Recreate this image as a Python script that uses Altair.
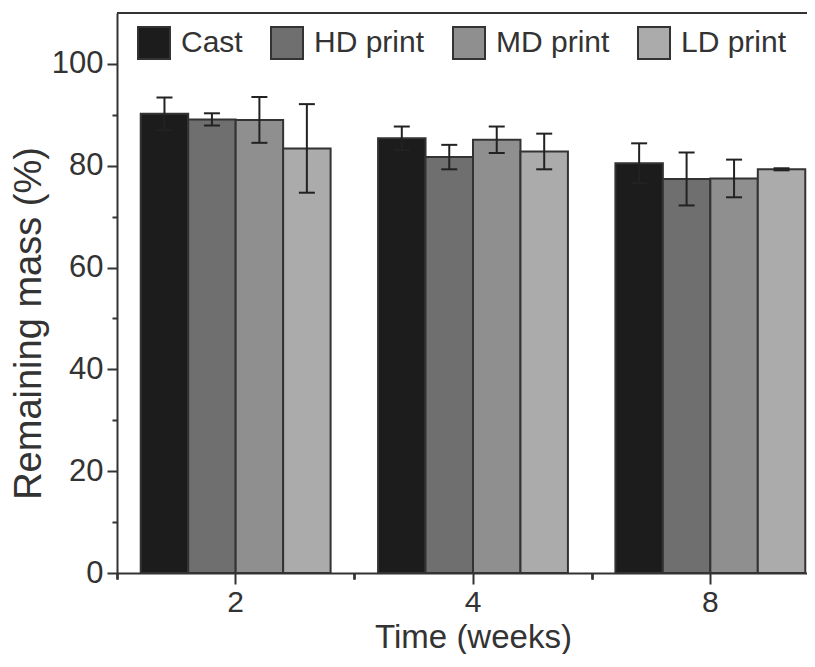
import altair as alt
import pandas as pd

# ---- data ----
times = ["2", "4", "8"]
groups = ["Cast", "HD print", "MD print", "LD print"]
cast_mean = [90.2, 85.4, 80.5]
hd_mean = [89.1, 81.7, 77.4]
md_mean = [89.0, 85.1, 77.5]
ld_mean = [83.4, 82.8, 79.3]
cast_err = [3.2, 2.3, 3.9]
hd_err = [1.2, 2.4, 5.2]
md_err = [4.5, 2.6, 3.7]
ld_err = [8.7, 3.5, 0.2]
colors = ["#1c1c1c", "#6f6f6f", "#8f8f8f", "#ababab"]
y_ticks = [0, 10, 20, 30, 40, 50, 60, 70, 80, 90, 100]
y_max = [110]

rows = []
for g, means, errs in zip(groups, [cast_mean, hd_mean, md_mean, ld_mean],
                          [cast_err, hd_err, md_err, ld_err]):
    for t, m, e in zip(times, means, errs):
        rows.append({"time": t, "group": g, "mean": m, "err": e})
df = pd.DataFrame(rows)

FONT = "Liberation Sans"
INK = "#333333"

x_scale = alt.Scale(domain=times, paddingInner=0, paddingOuter=0)
xo_scale = alt.Scale(domain=groups, paddingInner=0, paddingOuter=0.5)
y_scale = alt.Scale(domain=[0, y_max[0]], nice=False)

main_x_axis = alt.Axis(title="Time (weeks)", labelAngle=0, labelFontSize=30,
                       titleFontSize=33, labelFont=FONT, titleFont=FONT,
                       labelColor=INK, titleColor=INK, titleFontWeight="normal",
                       tickSize=11, tickWidth=2, tickColor=INK,
                       domainColor=INK, domainWidth=2, labelPadding=3,
                       titleY=74, titleBaseline="alphabetic", grid=False)
minor_x_axis = alt.Axis(title=None, orient="bottom", labels=False, domain=False,
                        tickBand="extent", tickSize=6, tickWidth=2, tickColor=INK,
                        grid=False)
y_axis = alt.Axis(title="Remaining mass (%)", values=y_ticks,
                  labelExpr="datum.value % 20 == 0 ? datum.label : ''",
                  tickSize={"condition": {"test": "datum.value % 20 == 0", "value": 10}, "value": 5},
                  tickWidth=2, tickColor=INK, domainColor=INK, domainWidth=2,
                  labelFontSize=31, titleFontSize=38, labelFont=FONT, titleFont=FONT,
                  labelColor=INK, titleColor=INK, titleFontWeight="normal",
                  labelPadding=4, titlePadding=3, titleY=310, grid=False)

base = alt.Chart(df)

bars = base.mark_bar(stroke=INK, strokeWidth=2).encode(
    x=alt.X("time:N", sort=times, scale=x_scale, axis=main_x_axis),
    xOffset=alt.XOffset("group:N", sort=groups, scale=xo_scale),
    y=alt.Y("mean:Q", scale=y_scale, axis=y_axis),
    fill=alt.Fill("group:N", sort=groups, scale=alt.Scale(domain=groups, range=colors),
                  legend=alt.Legend(title=None, orient="none", legendX=20, legendY=13,
                                    direction="horizontal", columns=4,
                                    symbolType="square", symbolSize=1024,
                                    symbolStrokeColor=INK, symbolStrokeWidth=2,
                                    symbolOpacity=1, labelFontSize=30, labelFont=FONT,
                                    labelColor=INK, labelOffset=10, columnPadding=24)),
)

err = base.transform_calculate(lo="datum.mean - datum.err", hi="datum.mean + datum.err")

rules = err.mark_rule(color="#222222", strokeWidth=2).encode(
    x=alt.X("time:N", sort=times, scale=x_scale, axis=minor_x_axis),
    xOffset=alt.XOffset("group:N", sort=groups, scale=xo_scale),
    y=alt.Y("lo:Q", scale=y_scale, axis=y_axis),
    y2="hi:Q",
)
caps_hi = err.mark_tick(orient="horizontal", size=16, thickness=2, color="#222222", opacity=1).encode(
    x=alt.X("time:N", sort=times, scale=x_scale, axis=minor_x_axis),
    xOffset=alt.XOffset("group:N", sort=groups, scale=xo_scale),
    y=alt.Y("hi:Q", scale=y_scale, axis=y_axis),
)
caps_lo = err.mark_tick(orient="horizontal", size=16, thickness=2, color="#222222", opacity=1).encode(
    x=alt.X("time:N", sort=times, scale=x_scale, axis=minor_x_axis),
    xOffset=alt.XOffset("group:N", sort=groups, scale=xo_scale),
    y=alt.Y("lo:Q", scale=y_scale, axis=y_axis),
)

top = alt.Chart(pd.DataFrame({"top": y_max})).mark_rule(color=INK, strokeWidth=2).encode(
    y=alt.Y("top:Q", scale=y_scale, axis=y_axis)
)

chart = alt.layer(bars, rules, caps_hi, caps_lo, top).resolve_axis(x="independent").properties(
    width=712, height=560,
    autosize=alt.AutoSizeParams(type="none"),
    padding={"left": 109, "top": 5, "right": -22, "bottom": 81},
    background="white",
).configure_view(stroke="transparent", strokeWidth=0)

chart.save("out.html", embed_options={"renderer": "svg", "actions": False})
